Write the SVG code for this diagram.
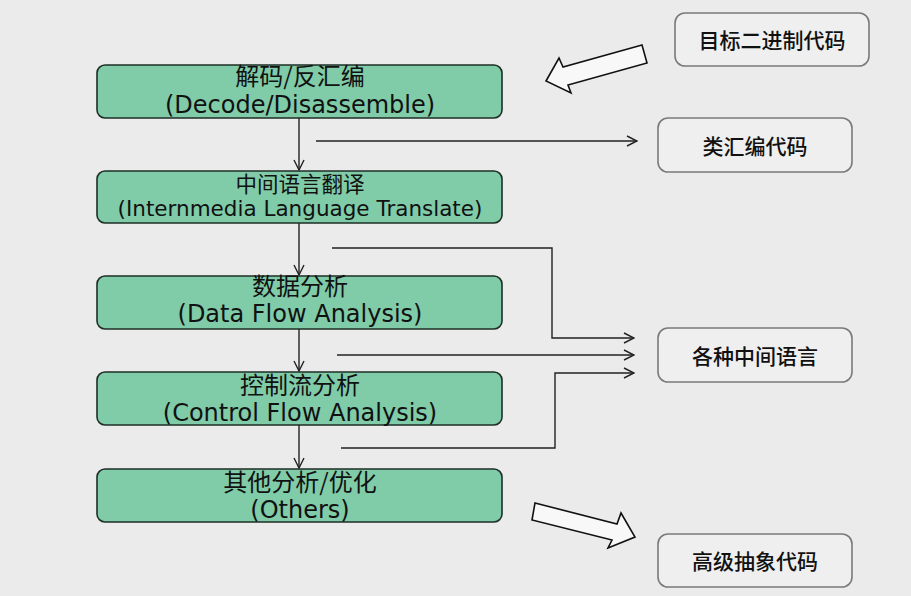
<svg xmlns="http://www.w3.org/2000/svg" width="911" height="596" viewBox="0 0 911 596">
<defs>
<style>
.step{fill:#80cba8;stroke:#1e2f26;stroke-width:1.6}
.out{fill:#efefef;stroke:#7a7a7a;stroke-width:1.6}
.zh{font-family:"Noto Sans CJK SC","DejaVu Sans",sans-serif;font-size:24px;fill:#111;text-anchor:middle}
.en{font-family:"DejaVu Sans","Noto Sans",sans-serif;font-size:24px;fill:#111;text-anchor:middle}
.lab{font-family:"Noto Sans CJK SC",sans-serif;font-size:21px;font-weight:500;fill:#111;text-anchor:middle;dominant-baseline:central}
.ln{fill:none;stroke:#222;stroke-width:1.4}
.big{fill:#f8f8f8;stroke:#111;stroke-width:1.6;stroke-linejoin:miter}
</style>
<marker id="ah" viewBox="0 0 12 12" refX="11" refY="6" markerWidth="12" markerHeight="12" markerUnits="userSpaceOnUse" orient="auto">
<path d="M1,1 L11,6 L1,11" fill="none" stroke="#222" stroke-width="1.4"/>
</marker>
</defs>
<rect width="911" height="596" fill="#ebebeb"/>

<g id="connectors">
<line class="ln" x1="299" y1="118" x2="299" y2="170" marker-end="url(#ah)"/>
<line class="ln" x1="299" y1="223" x2="299" y2="275" marker-end="url(#ah)"/>
<line class="ln" x1="299" y1="329" x2="299" y2="371" marker-end="url(#ah)"/>
<line class="ln" x1="299" y1="425" x2="299" y2="468" marker-end="url(#ah)"/>
<line class="ln" x1="316" y1="141" x2="637" y2="141" marker-end="url(#ah)"/>
<polyline class="ln" points="332,248 552,248 552,338 634,338" marker-end="url(#ah)"/>
<line class="ln" x1="337" y1="355" x2="634" y2="355" marker-end="url(#ah)"/>
<polyline class="ln" points="341,448 555,448 555,373 634,373" marker-end="url(#ah)"/>
<polygon id="arrow-in" class="big" points="642,45 563,67 559,58 546,81 571,93 568,85 647,63"/>
<polygon id="arrow-out" class="big" points="535,503 617,524 621,513 635,537 608,548 612,540 532,520"/>
</g>

<g id="decode">
<rect class="step" x="97" y="65" width="405" height="53" rx="8"/>
<text class="zh" x="300" y="85">解码/反汇编</text>
<text class="en" x="300" y="113">(Decode/Disassemble)</text>
</g>
<g id="il">
<rect class="step" x="97" y="171" width="405" height="52" rx="8"/>
<text class="zh" x="300" y="192" style="font-size:21.5px">中间语言翻译</text>
<text class="en" x="300" y="216" style="font-size:21.5px">(Internmedia Language Translate)</text>
</g>
<g id="dataflow">
<rect class="step" x="97" y="276" width="405" height="53" rx="8"/>
<text class="zh" x="300" y="295">数据分析</text>
<text class="en" x="300" y="322">(Data Flow Analysis)</text>
</g>
<g id="controlflow">
<rect class="step" x="97" y="372" width="405" height="53" rx="8"/>
<text class="zh" x="300" y="394">控制流分析</text>
<text class="en" x="300" y="421">(Control Flow Analysis)</text>
</g>
<g id="others">
<rect class="step" x="97" y="469" width="405" height="53" rx="8"/>
<text class="zh" x="300" y="491">其他分析/优化</text>
<text class="en" x="300" y="518">(Others)</text>
</g>

<g id="binary">
<rect class="out" x="675" y="13" width="194" height="53" rx="10"/>
<text class="lab" x="772" y="39">目标二进制代码</text>
</g>
<g id="asm">
<rect class="out" x="658" y="118" width="194" height="54" rx="10"/>
<text class="lab" x="755" y="145">类汇编代码</text>
</g>
<g id="irs">
<rect class="out" x="658" y="328" width="194" height="54" rx="10"/>
<text class="lab" x="755" y="355">各种中间语言</text>
</g>
<g id="highlevel">
<rect class="out" x="658" y="534" width="194" height="53" rx="10"/>
<text class="lab" x="755" y="560">高级抽象代码</text>
</g>
</svg>
